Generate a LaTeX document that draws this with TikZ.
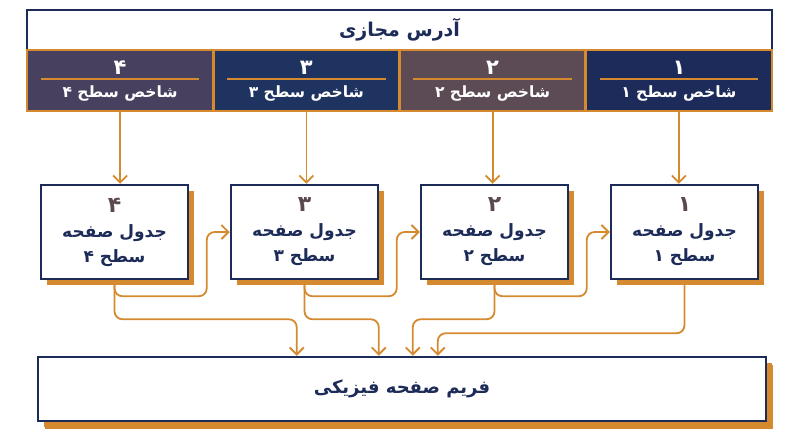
\documentclass[tikz,border=0pt]{standalone}
\usepackage{fontspec}
\setmainfont{DejaVu Sans}
\newfontfamily\fafont[Script=Arabic]{DejaVu Sans}
\TeXXeTstate=1
\usetikzlibrary{arrows.meta,positioning,shadows,calc}
\definecolor{navy}{HTML}{1C2B57}
\definecolor{gold}{HTML}{D68A30}
\definecolor{cellA}{HTML}{47415F}
\definecolor{cellB}{HTML}{1F3361}
\definecolor{cellC}{HTML}{5C4B55}
\definecolor{cellD}{HTML}{1D2B5A}
\definecolor{numgray}{HTML}{5A4A50}
\newcommand{\fa}[1]{{\fafont\beginR #1\endR}}

\begin{document}
\begin{tikzpicture}[x=1pt,y=-1pt,>={Straight Barb[length=7pt,width=14pt]},hdr/.style={draw=navy,line width=2.5pt,fill=white,minimum width=745pt,minimum height=40pt,inner sep=0pt,text=navy,font=\bfseries\fontsize{19}{22}\selectfont},cell/.style={draw=gold,line width=2.5pt,minimum width=186.25pt,minimum height=61pt,inner sep=0pt},celltxt/.style={text=white,inner sep=0pt,font=\bfseries\fontsize{15.5}{19}\selectfont},page/.style={draw=navy,line width=2.5pt,fill=white,minimum width=147pt,minimum height=94pt,inner sep=0pt,align=center,text=navy,font=\bfseries\fontsize{17}{25}\selectfont,drop shadow={shadow xshift=6pt,shadow yshift=-6pt,fill=gold,draw=none,opacity=1}},link/.style={draw=gold,line width=1.8pt,rounded corners=8pt}]
  \useasboundingbox (0,0) rectangle (800,447);
  \node[hdr] (va) at (399.5,30) {\fa{آدرس مجازی}};
  \node[cell,fill=cellA] (i4) at (120.1,80.5) {};
  \node[cell,fill=cellB] (i3) at (306.4,80.5) {};
  \node[cell,fill=cellC] (i2) at (492.6,80.5) {};
  \node[cell,fill=cellD] (i1) at (678.9,80.5) {};
  \draw[gold,line width=1.5pt] ($(i4.west)+(15,-1.5)$) -- ($(i4.east)+(-15,-1.5)$);
  \draw[gold,line width=1.5pt] ($(i3.west)+(15,-1.5)$) -- ($(i3.east)+(-15,-1.5)$);
  \draw[gold,line width=1.5pt] ($(i2.west)+(15,-1.5)$) -- ($(i2.east)+(-15,-1.5)$);
  \draw[gold,line width=1.5pt] ($(i1.west)+(15,-1.5)$) -- ($(i1.east)+(-15,-1.5)$);
  \node[celltxt,font=\bfseries\fontsize{21}{22}\selectfont] (n4) at ($(i4.center)+(0,-13)$) {\fa{۴}};
  \node[celltxt,font=\bfseries\fontsize{21}{22}\selectfont] (n3) at ($(i3.center)+(0,-13)$) {\fa{۳}};
  \node[celltxt,font=\bfseries\fontsize{21}{22}\selectfont] (n2) at ($(i2.center)+(0,-13)$) {\fa{۲}};
  \node[celltxt,font=\bfseries\fontsize{21}{22}\selectfont] (n1) at ($(i1.center)+(0,-13)$) {\fa{۱}};
  \node[celltxt] (l4) at ($(i4.center)+(0,13)$) {\fa{شاخص سطح ۴}};
  \node[celltxt] (l3) at ($(i3.center)+(0,13)$) {\fa{شاخص سطح ۳}};
  \node[celltxt] (l2) at ($(i2.center)+(0,13)$) {\fa{شاخص سطح ۲}};
  \node[celltxt] (l1) at ($(i1.center)+(0,13)$) {\fa{شاخص سطح ۱}};
  \node[page] (p4) at (114.5,232) {{\color{numgray}\fontsize{22}{25}\selectfont\fa{۴}}\\\fa{جدول صفحه}\\\fa{سطح ۴}};
  \node[page,right=40.5pt of p4] (p3) {{\color{numgray}\fontsize{22}{25}\selectfont\fa{۳}}\\\fa{جدول صفحه}\\\fa{سطح ۳}};
  \node[page,right=40.5pt of p3] (p2) {{\color{numgray}\fontsize{22}{25}\selectfont\fa{۲}}\\\fa{جدول صفحه}\\\fa{سطح ۲}};
  \node[page,right=40.5pt of p2] (p1) {{\color{numgray}\fontsize{22}{25}\selectfont\fa{۱}}\\\fa{جدول صفحه}\\\fa{سطح ۱}};
  \node[page,minimum width=728pt,minimum height=64pt,font=\bfseries\fontsize{18}{24}\selectfont,drop shadow={shadow xshift=7pt,shadow yshift=-8pt,fill=gold,draw=none,opacity=1}] (fr) at (402,389) {\fa{فریم صفحه فیزیکی}};
  \coordinate (t4) at ($(fr.north west)+(260,0)$);
  \coordinate (t3) at ($(fr.north west)+(342,0)$);
  \coordinate (t2) at ($(fr.north west)+(376,0)$);
  \coordinate (t1) at ($(fr.north west)+(401,0)$);
  \draw[link,->] (i4.south) -- (i4.south |- p4.north);
  \draw[link,->] (i3.south) -- (i3.south |- p3.north);
  \draw[link,->] (i2.south) -- (i2.south |- p2.north);
  \draw[link,->] (i1.south) -- (i1.south |- p1.north);
  \draw[link,->] (p4.south) -- ++(0,16) -| ($(p3.west)+(-23,0)$) -- (p3.west);
  \draw[link,->] (p3.south) -- ++(0,16) -| ($(p2.west)+(-23,0)$) -- (p2.west);
  \draw[link,->] (p2.south) -- ++(0,16) -| ($(p1.west)+(-23,0)$) -- (p1.west);
  \draw[link,->] (p4.south) -- ++(0,39) -| (t4);
  \draw[link,->] (p3.south) -- ++(0,39) -| (t3);
  \draw[link,->] (p2.south) -- ++(0,39) -| (t2);
  \draw[link,->] (p1.south) -- ++(0,53) -| (t1);
\end{tikzpicture}
\end{document}
